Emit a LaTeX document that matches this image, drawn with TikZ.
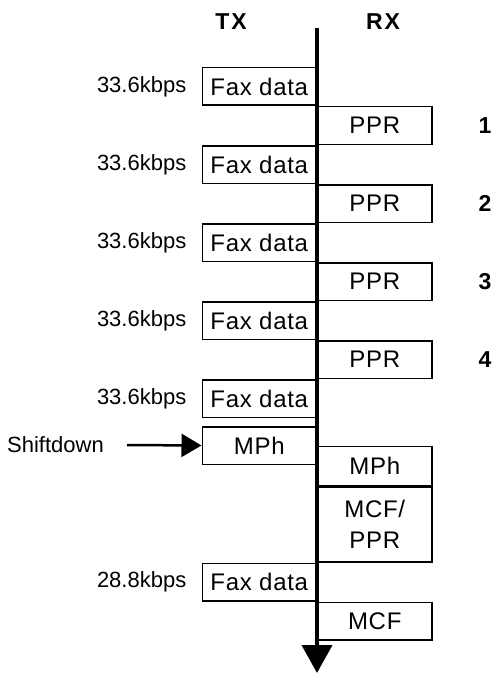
\documentclass[tikz,border=0pt]{standalone}
\usepackage{fontspec}
\setmainfont{Liberation Sans}
\usetikzlibrary{arrows.meta,positioning}
\tikzset{
  msgbox/.style={draw, line width=1.5pt, minimum width=114pt, minimum height=37.5pt,
    inner sep=0pt, align=center, font=\fontsize{24}{31}\selectfont\addfontfeature{LetterSpace=3}},
  ratelbl/.style={inner sep=2pt, font=\fontsize{22}{26}\selectfont},
  sidelbl/.style={inner sep=0pt, font=\fontsize{23}{27}\selectfont\bfseries\addfontfeature{LetterSpace=8}},
  countlbl/.style={inner sep=0pt, font=\fontsize{23}{27}\selectfont\bfseries},
  timeline/.style={line width=4pt, -{Triangle[length=28pt,width=30pt]}},
  shiftarrow/.style={line width=2.5pt, -{Triangle[length=20pt,width=23pt]}}
}
\begin{document}
\begin{tikzpicture}[x=1pt,y=-1pt]
  \useasboundingbox (0,0) rectangle (493,674);
  % sides
  \node[sidelbl] (tx) at (231,22) {TX};
  \node[sidelbl] (rx) at (383,22) {RX};
  % messages at 33.6kbps
  \node[msgbox, anchor=north east] (fax1) at (317,67) {Fax data};
  \node[msgbox, below right=0pt of fax1.south east] (ppr1) {PPR};
  \node[msgbox, below left=0pt of ppr1.south west] (fax2) {Fax data};
  \node[msgbox, below right=0pt of fax2.south east] (ppr2) {PPR};
  \node[msgbox, below left=0pt of ppr2.south west] (fax3) {Fax data};
  \node[msgbox, below right=0pt of fax3.south east] (ppr3) {PPR};
  \node[msgbox, below left=0pt of ppr3.south west] (fax4) {Fax data};
  \node[msgbox, below right=0pt of fax4.south east] (ppr4) {PPR};
  \node[msgbox, below left=0pt of ppr4.south west] (fax5) {Fax data};
  % shift down
  \node[msgbox, anchor=north east] (mphtx) at (317,426) {MPh};
  \node[msgbox, anchor=north west, minimum height=39pt] (mphrx) at (mphtx.east) {MPh};
  \node[msgbox, below=0pt of mphrx, minimum height=75pt, text depth=0pt] (mcfppr) {MCF/\\PPR};
  \node[msgbox, below left=0pt of mcfppr.south west] (fax6) {Fax data};
  \node[msgbox, below right=0pt of fax6.south east] (mcf) {MCF};
  % rates
  \node[ratelbl, left=13pt of fax1] (r1) {33.6kbps};
  \node[ratelbl, left=13pt of fax2] (r2) {33.6kbps};
  \node[ratelbl, left=13pt of fax3] (r3) {33.6kbps};
  \node[ratelbl, left=13pt of fax4] (r4) {33.6kbps};
  \node[ratelbl, left=13pt of fax5] (r5) {33.6kbps};
  \node[ratelbl, left=13pt of fax6] (r6) {28.8kbps};
  % PPR count
  \node[countlbl, right=46pt of ppr1] (n1) {1};
  \node[countlbl, right=46pt of ppr2] (n2) {2};
  \node[countlbl, right=46pt of ppr3] (n3) {3};
  \node[countlbl, right=46pt of ppr4] (n4) {4};
  % shiftdown arrow
  \coordinate (sdstart) at (127,445);
  \node[ratelbl, left=21pt of sdstart] (sd) {Shiftdown};
  \draw[shiftarrow] (sdstart) -- (mphtx.west);
  % time axis
  \coordinate (ttop) at (317,28);
  \coordinate (tbot) at (317,673);
  \draw[timeline] (ttop) -- (tbot);
\end{tikzpicture}
\end{document}
